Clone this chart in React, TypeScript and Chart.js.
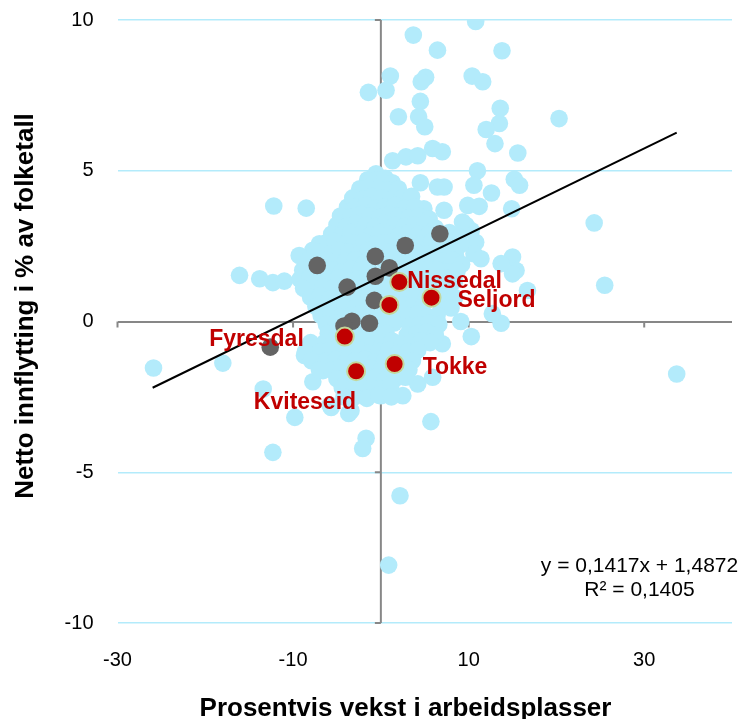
import { useEffect, useRef } from "react";
import { Chart, registerables } from "chart.js";

Chart.register(...registerables);

const FONT = "'Liberation Sans', Arial, Helvetica, sans-serif";

const X_TICKS = [-30, -10, 10, 30];
const Y_TICKS = [-10, -5, 0, 5, 10];

const X_TITLE = "Prosentvis vekst i arbeidsplasser";
const Y_TITLE = "Netto innflytting i % av folketall";

// Other municipalities (light blue): [job growth %, net in-migration %]
const OTHER_MUNICIPALITIES: [number, number][] = [
  // scattered upper points
  [10.8, 9.95], [3.7, 9.5], [6.45, 9.0], [13.8, 8.98], [1.08, 8.14], [-1.42, 7.6], [0.59, 7.67],
  [5.1, 8.1], [4.6, 7.95], [10.4, 8.14], [11.6, 7.95], [4.5, 7.3], [2.0, 6.79], [4.3, 6.79],
  [5.0, 6.46], [13.6, 7.07], [13.5, 6.57], [12.0, 6.37], [20.3, 6.73], [13.0, 5.9], [15.6, 5.59],
  [2.86, 5.46], [4.2, 5.5], [5.9, 5.74], [7.0, 5.63], [11.0, 5.0], [10.6, 4.52], [15.2, 4.72],
  [15.8, 4.52], [4.5, 4.6], [6.45, 4.46], [7.2, 4.46], [12.6, 4.26], [9.9, 3.85], [11.2, 3.82],
  [14.9, 3.74], [24.3, 3.27], [9.7, 3.19], [1.34, 5.33], [-12.2, 3.83], [-8.5, 3.76], [-0.55, 4.9],
  [-2.07, 4.35], [-3.8, 3.8], [-4.7, 3.25], [10.3, 3.02], [10.8, 2.63], [10.6, 2.25], [11.4, 2.08],
  [15.0, 2.14], [15.4, 1.69], [9.3, 3.3], [7.2, 3.69], [4.9, 3.74], [-7.0, 2.58], [-7.75, 2.36],
  [-9.3, 2.19],
  // left and bottom
  [-16.1, 1.53], [-13.8, 1.42], [-12.3, 1.29], [-11.0, 1.34], [-25.9, -1.54], [-18.0, -1.38],
  [-13.4, -2.24], [-12.3, -4.34], [-9.8, -3.18], [-5.66, -2.85], [-3.66, -3.05], [-1.68, -3.87],
  [-2.07, -4.21], [5.7, -3.32], [2.18, -5.78], [0.89, -8.08], [-3.4, -2.96], [-5.8, -2.77],
  // right
  [25.5, 1.2], [33.7, -1.74], [9.1, 0.0], [10.3, -0.5], [13.7, -0.06], [12.7, 0.26], [16.7, 1.03],
  [15.0, 1.58], [13.7, 1.92], [7.2, 0.64], [0.0, -2.46], [2.5, -2.46], [4.2, -2.07], [5.9, -1.85],
  [7.0, -0.74], [-6.6, -1.63], [-7.75, -2.0], [-8.7, -1.13],
  // dense central cloud
  [-1.5, 4.7], [-0.5, 4.7], [0.5, 4.75], [1.3, 4.6],
  [-2.4, 4.4], [-1.4, 4.45], [-0.3, 4.4], [0.8, 4.35], [2.0, 4.4],
  [-3.2, 4.1], [-2.1, 4.05], [-1.0, 4.15], [0.1, 4.1], [1.2, 4.05], [2.4, 4.1], [3.5, 4.15],
  [-2.8, 3.8], [-1.7, 3.85], [-0.6, 3.75], [0.5, 3.8], [1.6, 3.85], [2.7, 3.75], [3.9, 3.8],
  [-4.6, 3.5], [-3.4, 3.45], [-2.3, 3.55], [-1.2, 3.5], [-0.1, 3.45], [1.0, 3.55], [2.1, 3.5],
  [3.2, 3.45], [4.3, 3.5], [5.5, 3.4],
  [-5.0, 3.2], [-3.9, 3.15], [-2.8, 3.25], [-1.7, 3.2], [-0.6, 3.15], [0.5, 3.25], [1.6, 3.2],
  [2.7, 3.15], [3.8, 3.2], [5.0, 3.25], [6.2, 3.1],
  [-5.6, 2.9], [-4.5, 2.85], [-3.4, 2.95], [-2.3, 2.9], [-1.2, 2.85], [-0.1, 2.95], [1.0, 2.9],
  [2.1, 2.85], [3.2, 2.95], [4.3, 2.9], [5.4, 2.85], [7.8, 2.95], [8.9, 2.8],
  [-6.3, 2.6], [-5.2, 2.65], [-4.1, 2.55], [-3.0, 2.6], [-1.9, 2.65], [-0.8, 2.55], [0.3, 2.6],
  [1.4, 2.65], [3.6, 2.6], [4.7, 2.55], [5.8, 2.65], [6.9, 2.5], [8.0, 2.6], [9.1, 2.55],
  [-6.9, 2.3], [-5.8, 2.25], [-4.7, 2.35], [-3.6, 2.3], [-2.5, 2.25], [-1.4, 2.35], [0.8, 2.3],
  [1.9, 2.25], [3.0, 2.35], [4.1, 2.3], [5.2, 2.25], [6.3, 2.35], [7.4, 2.3], [8.5, 2.2],
  [-8.4, 2.0], [-6.2, 2.05], [-5.1, 1.95], [-4.0, 2.0], [-2.9, 2.05], [-1.8, 1.95], [0.4, 2.0],
  [1.5, 2.05], [2.6, 1.95], [3.7, 2.0], [4.8, 2.05], [5.9, 1.95], [7.0, 2.0], [8.1, 2.05], [9.2, 1.9],
  [-8.9, 1.7], [-7.8, 1.65], [-6.7, 1.75], [-5.6, 1.7], [-4.5, 1.65], [-3.4, 1.75], [-2.3, 1.7],
  [-1.2, 1.65], [2.1, 1.75], [3.2, 1.7], [4.3, 1.65], [5.4, 1.75], [6.5, 1.7], [7.6, 1.65], [8.7, 1.7],
  [-9.2, 1.4], [-8.1, 1.45], [-7.0, 1.35], [-5.9, 1.4], [-4.8, 1.45], [-3.7, 1.35], [-2.6, 1.4],
  [-1.5, 1.45], [0.7, 1.35], [2.9, 1.4], [4.0, 1.45], [5.1, 1.35], [6.2, 1.4], [7.3, 1.45], [8.4, 1.35],
  [-8.8, 1.1], [-7.7, 1.05], [-6.6, 1.15], [-5.5, 1.1], [-4.4, 1.05], [-2.2, 1.1], [-1.1, 1.05],
  [0.0, 1.15], [1.1, 1.1], [3.3, 1.05], [4.4, 1.15], [5.5, 1.1], [6.6, 1.05], [7.7, 1.1],
  [-8.0, 0.8], [-6.9, 0.85], [-5.8, 0.75], [-4.7, 0.8], [-3.6, 0.85], [-2.5, 0.75], [-1.4, 0.8],
  [0.3, 0.85], [1.9, 0.8], [3.0, 0.75], [4.1, 0.85], [5.2, 0.8], [6.3, 0.75], [7.4, 0.85], [8.4, 0.8],
  [-7.4, 0.5], [-6.3, 0.45], [-5.2, 0.55], [-4.1, 0.5], [-3.0, 0.45], [-1.9, 0.55], [0.3, 0.5],
  [2.0, 0.45], [2.5, 0.55], [3.6, 0.5], [4.7, 0.45], [6.9, 0.5], [8.0, 0.45],
  [-6.8, 0.2], [-5.7, 0.25], [-4.6, 0.15], [-3.5, 0.2], [-2.4, 0.25], [-1.3, 0.15], [-0.2, 0.2],
  [0.9, 0.25], [2.0, 0.15], [3.1, 0.2], [4.2, 0.25], [5.3, 0.15], [6.4, 0.2],
  [-6.2, -0.1], [-5.1, -0.05], [-4.0, -0.15], [-2.9, -0.1], [-1.8, -0.05], [-0.7, -0.15], [0.4, -0.1],
  [1.5, -0.05], [3.3, -0.15], [4.4, -0.1], [5.5, -0.05], [6.6, -0.1],
  [-6.0, -0.4], [-4.9, -0.35], [-3.8, -0.45], [-2.7, -0.4], [-1.6, -0.35], [-0.5, -0.45], [0.6, -0.4],
  [3.0, -0.45], [4.1, -0.4], [5.2, -0.35], [6.2, -0.45],
  [-8.0, -0.7], [-6.4, -0.7], [-5.3, -0.65], [-4.2, -0.75], [-3.1, -0.7], [-2.0, -0.65], [-0.9, -0.75],
  [0.2, -0.7], [1.3, -0.65], [2.4, -0.75], [3.5, -0.7], [4.6, -0.65], [5.6, -0.7],
  [-8.6, -1.0], [-6.8, -1.0], [-5.7, -0.95], [-4.6, -1.05], [-3.5, -1.0], [-2.4, -0.95], [-1.3, -1.05],
  [-0.2, -1.0], [0.9, -0.95], [2.0, -1.05], [3.1, -1.0], [4.2, -0.95],
  [-7.9, -1.3], [-6.2, -1.3], [-5.1, -1.25], [-4.0, -1.35], [-2.9, -1.3], [-1.8, -1.25], [-0.7, -1.35],
  [0.4, -1.3], [2.6, -1.25], [3.6, -1.3],
  [-7.0, -1.6], [-5.6, -1.6], [-4.5, -1.55], [-3.4, -1.65], [-1.2, -1.55], [-0.1, -1.65], [1.0, -1.6],
  [2.1, -1.55], [3.2, -1.6],
  [-5.0, -1.9], [-3.9, -1.95], [-1.7, -1.9], [-0.6, -1.85], [0.5, -1.95], [1.6, -1.9], [2.8, -1.85],
  [-4.4, -2.2], [-3.3, -2.25], [-2.2, -2.15], [-1.1, -2.2], [0.0, -2.25], [1.1, -2.15],
  [-4.2, -2.5], [-3.0, -2.5], [-1.6, -2.55], [-0.2, -2.45], [1.2, -2.5],
];

// Other Telemark municipalities (dark grey)
const TELEMARK_OTHER: [number, number][] = [
  [6.72, 2.91], [2.78, 2.52], [-0.63, 2.16], [-7.25, 1.86], [0.97, 1.78], [-0.63, 1.5],
  [-3.84, 1.14], [-0.74, 0.7], [-3.3, 0.01], [-1.3, -0.06], [-4.2, -0.15], [-12.6, -0.85],
];

// Vest-Telemark municipalities (red)
const VEST_TELEMARK: [number, number][] = [
  [2.1, 1.31], [5.77, 0.79], [0.97, 0.55], [-4.11, -0.5], [-2.82, -1.65], [1.57, -1.41],
];
const VEST_TELEMARK_NAMES = ["Nissedal", "Seljord", "", "Fyresdal", "Kviteseid", "Tokke"];

const TREND_SLOPE = 0.1417;
const TREND_INTERCEPT = 1.4872;
const TREND_X_RANGE = [-26.0, 33.7];
const EQUATION_TEXT = "y = 0,1417x + 1,4872";
const R2_TEXT = "R² = 0,1405";

// styling
const LIGHT = "#B3EBFB";
const GRID = "#B3EBFB";
const AXIS = "#878787";
const DARK = "#646464";
const RED = "#C00000";
const LABEL_STYLE: Record<string, { dx: number; dy: number; align: CanvasTextAlign }> = {
  Nissedal: { dx: 8, dy: 6, align: "left" },
  Seljord: { dx: 26, dy: 9, align: "left" },
  Fyresdal: { dx: -41, dy: 9, align: "right" },
  Kviteseid: { dx: 0, dy: 38, align: "right" },
  Tokke: { dx: 28, dy: 10, align: "left" },
};

const toPts = (arr: [number, number][]) => arr.map(([x, y]) => ({ x, y }));

const overlayPlugin = {
  id: "overlay",
  beforeDatasetsDraw(chart: any) {
    const { ctx, scales } = chart;
    const xs = scales.x;
    const ys = scales.y;
    const x0 = xs.getPixelForValue(0);
    const y0 = ys.getPixelForValue(0);
    ctx.save();
    ctx.strokeStyle = AXIS;
    ctx.lineWidth = 2;
    ctx.beginPath();
    ctx.moveTo(x0, ys.getPixelForValue(Y_TICKS[Y_TICKS.length - 1]));
    ctx.lineTo(x0, ys.getPixelForValue(Y_TICKS[0]));
    for (const v of Y_TICKS) {
      const py = ys.getPixelForValue(v);
      ctx.moveTo(x0 - 6, py);
      ctx.lineTo(x0, py);
    }
    for (const v of X_TICKS) {
      const px = xs.getPixelForValue(v);
      ctx.moveTo(px, y0);
      ctx.lineTo(px, y0 + 6);
    }
    ctx.stroke();
    ctx.restore();
  },
  afterDatasetsDraw(chart: any) {
    const { ctx } = chart;
    const meta = chart.getDatasetMeta(1);
    ctx.save();
    ctx.font = `bold 23px ${FONT}`;
    ctx.fillStyle = RED;
    ctx.textBaseline = "alphabetic";
    VEST_TELEMARK_NAMES.forEach((name, i) => {
      if (!name) return;
      const el = meta.data[i];
      const st = LABEL_STYLE[name];
      ctx.textAlign = st.align;
      ctx.fillText(name, el.x + st.dx, el.y + st.dy);
    });
    ctx.restore();
  },
  afterDraw(chart: any) {
    const { ctx, chartArea } = chart;
    ctx.save();
    ctx.fillStyle = "#000";
    ctx.textBaseline = "alphabetic";
    // equation
    ctx.font = `21px ${FONT}`;
    ctx.textAlign = "center";
    ctx.fillText(EQUATION_TEXT, chartArea.right - 92.5, chartArea.bottom - 51);
    ctx.fillText(R2_TEXT, chartArea.right - 92.5, chartArea.bottom - 27.5);
    // axis titles
    ctx.font = `bold 26px ${FONT}`;
    ctx.fillText(X_TITLE, chartArea.left + 288, chartArea.bottom + 92.5);
    ctx.translate(33.3, chartArea.top + 286);
    ctx.rotate(-Math.PI / 2);
    ctx.fillText(Y_TITLE, 0, 0);
    ctx.restore();
  },
};

export default function App() {
  const ref = useRef<HTMLCanvasElement>(null);
  useEffect(() => {
    if (!ref.current) return;
    const chart = new Chart(ref.current, {
      type: "scatter",
      data: {
        datasets: [
          {
            label: "Trend",
            data: TREND_X_RANGE.map((x) => ({ x, y: TREND_SLOPE * x + TREND_INTERCEPT })),
            showLine: true,
            borderColor: "#000",
            borderWidth: 2,
            pointRadius: 0,
            order: 0,
          },
          {
            label: "Vest-Telemark",
            data: toPts(VEST_TELEMARK),
            backgroundColor: RED,
            borderColor: "#C4D79B",
            borderWidth: 2,
            pointRadius: 9,
            order: 1,
          },
          {
            label: "Telemark",
            data: toPts(TELEMARK_OTHER),
            backgroundColor: DARK,
            borderWidth: 0,
            pointRadius: 8.8,
            order: 2,
          },
          {
            label: "Andre",
            data: toPts(OTHER_MUNICIPALITIES),
            backgroundColor: LIGHT,
            borderWidth: 0,
            pointRadius: 8.8,
            order: 3,
          },
        ],
      },
      options: {
        animation: false,
        responsive: false,
        devicePixelRatio: 1,
        layout: { padding: { top: 20, right: 9, left: 0, bottom: 0 } },
        plugins: { legend: { display: false }, tooltip: { enabled: false } },
        scales: {
          x: {
            type: "linear",
            min: -30,
            max: 40,
            afterBuildTicks: (axis: any) => {
              axis.ticks = X_TICKS.map((value) => ({ value }));
            },
            afterFit: (scale: any) => {
              scale.height = 96;
              scale.paddingLeft = 0;
              scale.paddingRight = 0;
            },
            grid: { display: false, drawTicks: false },
            border: { display: false },
            ticks: {
              padding: 25,
              color: "#000",
              font: { family: FONT, size: 20 },
              maxRotation: 0,
              autoSkip: false,
            },
          },
          y: {
            type: "linear",
            min: -10,
            max: 10,
            afterBuildTicks: (axis: any) => {
              axis.ticks = Y_TICKS.map((value) => ({ value }));
            },
            afterFit: (scale: any) => {
              scale.width = 117.5;
              scale.paddingTop = 0;
              scale.paddingBottom = 0;
            },
            grid: {
              drawTicks: false,
              color: (c: any) => (c.tick && c.tick.value === 0 ? AXIS : GRID),
              lineWidth: (c: any) => (c.tick && c.tick.value === 0 ? 2 : 1.5),
            },
            border: { display: false },
            ticks: {
              padding: 24,
              color: "#000",
              font: { family: FONT, size: 20 },
            },
          },
        },
      },
      plugins: [overlayPlugin],
    });
    return () => chart.destroy();
  }, []);
  return (
    <div style={{ position: "absolute", left: 0, top: 0, width: 743, height: 719, background: "#fff" }}>
      <canvas ref={ref} width={743} height={719} />
    </div>
  );
}
